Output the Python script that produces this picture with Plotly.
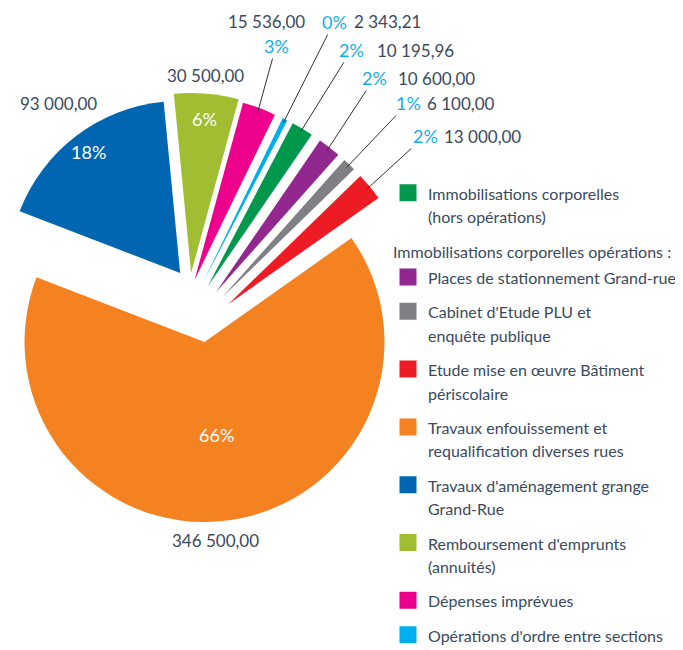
import math
import plotly.graph_objects as go

# ---------------- data ----------------
labels = [
    "Immobilisations corporelles<br>(hors opérations)",
    "Places de stationnement Grand-rue",
    "Cabinet d'Etude PLU et<br>enquête publique",
    "Etude mise en œuvre Bâtiment<br>périscolaire",
    "Travaux enfouissement et<br>requalification diverses rues",
    "Travaux d'aménagement grange<br>Grand-Rue",
    "Remboursement d'emprunts<br>(annuités)",
    "Dépenses imprévues",
    "Opérations d'ordre entre sections",
]
values = [10195.96, 10600.00, 6100.00, 13000.00, 346500.00,
          93000.00, 30500.00, 15536.00, 2343.21]
legend_header = "Immobilisations corporelles opérations :"

# ---------------- style ----------------
colors = ["#00984c", "#92278f", "#7f8083", "#ed1c24", "#f58220",
          "#0066b2", "#a1bd32", "#ec008c", "#00aeef"]
W, H = 683, 650
OFF = 8            # page (body) margin in front of the figure, px
ROTATION = 27.5
TEXT = "#3a4a60"
CYAN = "#12aee8"
FONT = "Lato"
LEG_LINE = 18      # legend line pitch font size
LEG_TEXT = 16      # legend glyph size

# explode layout (page px): each group has an origin, each slice is pushed
# out along its own mid-angle by EXPLODE px
GROUP_ORIGIN = {"main": (204.5, 342.0), "upper": (190.0, 286.0), "fan": (166.0, 356.0)}
SLICE_GROUP = ["fan", "fan", "fan", "fan", "main", "upper", "upper", "fan", "fan"]
EXPLODE = [81, 81, 81, 81, 0, 16.3, 13.1, 81, 81]
RADIUS = [184, 184, 184, 184, 180, 172, 180, 184, 184]

# label placement (page px)
INSIDE_FRAC = {4: 0.52, 5: 0.88, 6: 0.86}
VALUE_POS = {4: (215, 540), 5: (58, 104), 6: (205.5, 75),
             7: (266, 22), 8: (387.5, 22), 0: (415, 50), 1: (436.5, 78),
             2: (460.5, 103), 3: (482.5, 136)}
PCT_POS = {7: (276, 46), 8: (334, 22), 0: (351.5, 50), 1: (374.5, 78),
           2: (408, 103), 3: (425, 136)}

# ---------------- geometry from data ----------------
total = sum(values)
n = len(values)
mids = []
acc = 0.0
for v in values:
    start = ROTATION + 360.0 * acc / total
    mids.append(start + 180.0 * v / total)
    acc += v
units = [(math.sin(math.radians(a)), -math.cos(math.radians(a))) for a in mids]
apex = []
for k in range(n):
    ox, oy = GROUP_ORIGIN[SLICE_GROUP[k]]
    apex.append((ox + EXPLODE[k] * units[k][0], oy + EXPLODE[k] * units[k][1]))


def px(x):
    return (x - OFF) / W


def py(y):
    return 1 - (y - OFF) / H


def clamp(v):
    return min(1.0, max(0.0, v))


def fmt(v):
    return f"{v:,.2f}".replace(",", " ").replace(".", ",")


def leg_text(s):
    return "<br>".join(f'<span style="font-size:{LEG_TEXT}px">{p}</span>' for p in s.split("<br>"))


pcts = [f"{round(100 * v / total)}%" for v in values]

fig = go.Figure()

# legend entries (tiny pies hidden under the orange slice)
for k in range(n):
    fig.add_trace(go.Pie(
        labels=[leg_text(labels[k])], values=[values[k]], sort=False,
        marker=dict(colors=[colors[k]], line=dict(color=colors[k], width=5)),
        textinfo="none", hoverinfo="skip", showlegend=True,
        legendgroup=f"g{k}",
        legendgrouptitle=(dict(text=leg_text(legend_header),
                               font=dict(size=LEG_LINE, color=TEXT, family=FONT))
                          if k == 1 else None),
        domain=dict(x=[0.29, 0.2901], y=[0.30, 0.3001]),
    ))

# the exploded slices, one trace per slice, all sharing the same values
for k in range(n):
    ax_, ay_ = apex[k]
    R = RADIUS[k]
    fig.add_trace(go.Pie(
        labels=labels, values=values, sort=False, direction="clockwise",
        rotation=ROTATION,
        marker=dict(colors=[colors[j] if j == k else "rgba(0,0,0,0)" for j in range(n)],
                    line=dict(width=0)),
        textinfo="none", hoverinfo="skip", showlegend=False,
        domain=dict(x=[clamp(px(ax_ - R)), clamp(px(ax_ + R))],
                    y=[clamp(py(ay_ + R)), clamp(py(ay_ - R))]),
    ))

annotations = []
for k, f in INSIDE_FRAC.items():
    x = apex[k][0] + f * RADIUS[k] * units[k][0]
    y = apex[k][1] + f * RADIUS[k] * units[k][1]
    annotations.append(dict(x=px(x), y=py(y), xref="paper", yref="paper", text=pcts[k],
                            xanchor="center", yanchor="middle", showarrow=False,
                            font=dict(size=18, color="white", family=FONT)))
for k, (x, y) in VALUE_POS.items():
    annotations.append(dict(x=px(x), y=py(y), xref="paper", yref="paper", text=fmt(values[k]),
                            xanchor="center", yanchor="middle", showarrow=False,
                            font=dict(size=17, color=TEXT, family=FONT)))
for k, (lx, ly) in PCT_POS.items():
    hx = apex[k][0] + (RADIUS[k] - 4) * units[k][0]
    hy = apex[k][1] + (RADIUS[k] - 4) * units[k][1]
    annotations.append(dict(x=px(hx), y=py(hy), xref="paper", yref="paper", text=pcts[k],
                            xanchor="center", yanchor="middle",
                            showarrow=True, arrowhead=0, arrowwidth=1, arrowcolor="#333333",
                            ax=lx - hx, ay=ly - hy, standoff=0, startstandoff=0,
                            font=dict(size=18, color=CYAN, family=FONT)))

fig.update_layout(
    width=W, height=H,
    margin=dict(l=0, r=0, t=0, b=0, pad=0, autoexpand=False),
    paper_bgcolor="white", plot_bgcolor="white",
    font=dict(family=FONT, color=TEXT, size=17),
    annotations=annotations,
    legend=dict(x=380 / W, y=1 - 166.5 / H, xanchor="left", yanchor="top",
                valign="top", tracegroupgap=8, bgcolor="rgba(0,0,0,0)",
                font=dict(family=FONT, size=LEG_LINE, color=TEXT)),
)

fig.write_html("out.html")
